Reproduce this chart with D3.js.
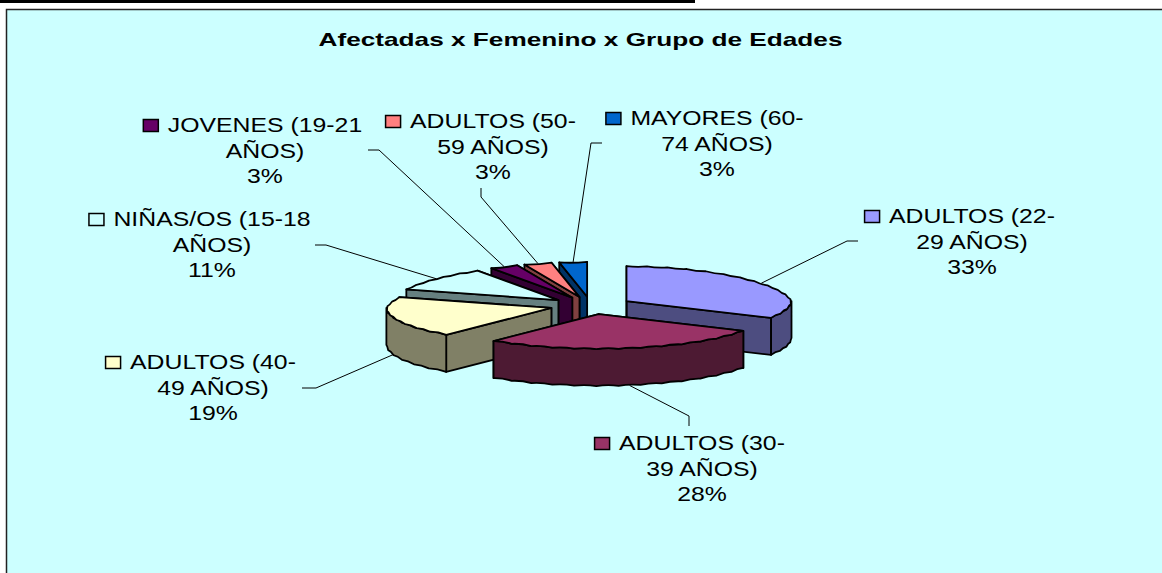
<!DOCTYPE html>
<html lang="es">
<head>
    <meta charset="UTF-8">
    <title>Afectadas x Femenino x Grupo de Edades</title>
    <script src="https://cdnjs.cloudflare.com/ajax/libs/d3/7.8.5/d3.min.js"></script>
    <style>
        body { margin: 0; overflow: hidden; background: #fff; }
        svg { display: block; }
        text { font-family: "Liberation Sans", Arial, sans-serif; fill: #000; }
    </style>
</head>
<body>
<svg id="chart" width="1162" height="573"></svg>
<script>
    // values, in slice order (clockwise from 12 o'clock)
    const values = [33, 28, 19, 11, 3, 3, 3];
    const labelLines = [
        ['ADULTOS (22-', '29 AÑOS)'],
        ['ADULTOS (30-', '39 AÑOS)'],
        ['ADULTOS (40-', '49 AÑOS)'],
        ['NIÑAS/OS (15-18', 'AÑOS)'],
        ['JOVENES (19-21', 'AÑOS)'],
        ['ADULTOS (50-', '59 AÑOS)'],
        ['MAYORES (60-', '74 AÑOS)']
    ];
    const topColors = ['#9999FF', '#993366', '#FFFFCC', '#CCFFFF', '#660066', '#FF8080', '#0066CC'];
    const sideColors = ['#4D4D80', '#4D1A33', '#808066', '#668080', '#330033', '#804040', '#003366'];

    // label placement: centre x, first baseline, then the leader's two outer points
    const labelX = [972, 702, 213, 212, 265, 493, 717];
    const labelY = [223, 450, 369, 226, 132, 128, 125];
    const leaderKnee = [[847, 241], [689, 416], [316, 388], [326, 245], [379, 150], [481, 197], [591, 143]];
    const leaderEnd = [[858, 241], [689, 426], [302, 388], [315, 245], [368, 150], [481, 188], [602, 143]];

    const W = 1162, H = 573;
    const cx = 591, cy = 305.5;
    const rx = 165, ry = 35, depth = 37;
    const explodeX = 0.25, explodeY = 0.25;
    const lineH = 25.7;
    const textStretch = 1.21;

    const svg = d3.select('#chart');

    svg.append('rect').attr('x', 0).attr('y', 0).attr('width', 695).attr('height', 3).attr('fill', '#000');
    svg.append('rect').attr('x', 6.5).attr('y', 9.5).attr('width', W).attr('height', H)
        .attr('fill', '#CCFFFF').attr('stroke', '#222').attr('stroke-width', 1.5);

    svg.append('text')
        .attr('x', 580.5).attr('y', 45.5)
        .attr('text-anchor', 'middle')
        .attr('font-size', 18.5).attr('font-weight', 'bold')
        .attr('textLength', 524).attr('lengthAdjust', 'spacingAndGlyphs')
        .text('Afectadas x Femenino x Grupo de Edades');

    const arcs = d3.pie().sort(null)(values);

    // point on the rim of a slice. The back of the pie is squeezed a bit, like excel's perspective
    function rimPoint(apex, angle, drop) {
        const dx = Math.sin(angle) * rx;
        const dy = -Math.cos(angle) * ry;
        const f = 1 + 0.1 * Math.min(0, dy) / ry;
        return [apex[0] + dx * f, apex[1] + dy + drop];
    }

    // rim is scalloped in the original, so curve each short segment in a little
    function addRim(path, apex, a0, a1, drop) {
        const n = Math.max(1, Math.round(Math.abs(a1 - a0) / (8 * Math.PI / 180)));
        for (let i = 1; i <= n; i++) {
            const p0 = rimPoint(apex, a0 + (a1 - a0) * (i - 1) / n, drop);
            const p1 = rimPoint(apex, a0 + (a1 - a0) * i / n, drop);
            const mx = (p0[0] + p1[0]) / 2, my = (p0[1] + p1[1]) / 2;
            const v = my - (apex[1] + drop) >= 0 ? -1.6 : 1.2;
            path.quadraticCurveTo(mx, my + v, p1[0], p1[1]);
        }
    }

    const slices = arcs.map((d, i) => {
        const mid = (d.startAngle + d.endAngle) / 2;
        return {
            i, d, mid,
            apex: [cx + Math.sin(mid) * rx * explodeX, cy - Math.cos(mid) * ry * explodeY]
        };
    });

    // back slices first, the big front one last
    const drawOrder = [6, 5, 4, 3, 0, 2, 1];
    const pieG = svg.append('g')
        .attr('stroke', '#000').attr('stroke-width', 1.8).attr('stroke-linejoin', 'round');

    function faceLine(apex, angle) {
        const c = rimPoint(apex, angle, 0);
        const c2 = rimPoint(apex, angle, depth);
        return d3.line()([apex, c, c2, [apex[0], apex[1] + depth]]) + 'Z';
    }

    drawOrder.forEach(k => {
        const s = slices[k];
        const g = pieG.append('g');
        const a0 = s.d.startAngle, a1 = s.d.endAngle;

        g.append('path').attr('d', faceLine(s.apex, a1)).attr('fill', sideColors[k]);
        g.append('path').attr('d', faceLine(s.apex, a0)).attr('fill', sideColors[k]);

        // front part of the wall only
        const w0 = Math.max(a0, Math.PI / 2), w1 = Math.min(a1, 3 * Math.PI / 2);
        if (w1 > w0) {
            const p = d3.path();
            const st = rimPoint(s.apex, w0, 0);
            p.moveTo(st[0], st[1]);
            addRim(p, s.apex, w0, w1, 0);
            const en = rimPoint(s.apex, w1, depth);
            p.lineTo(en[0], en[1]);
            addRim(p, s.apex, w1, w0, depth);
            p.closePath();
            g.append('path').attr('d', p.toString()).attr('fill', sideColors[k]);
        }

        const top = d3.path();
        top.moveTo(s.apex[0], s.apex[1]);
        const c0 = rimPoint(s.apex, a0, 0);
        top.lineTo(c0[0], c0[1]);
        addRim(top, s.apex, a0, a1, 0);
        top.closePath();
        g.append('path').attr('d', top.toString()).attr('fill', topColors[k]);
    });

    // leaders run from the slice's rim at its mid angle out to the label
    slices.forEach(s => {
        const front = Math.cos(s.mid) < -0.2 || (s.mid > Math.PI && s.mid < 3 * Math.PI / 2);
        const start = rimPoint(s.apex, s.mid, front ? depth : 0);
        svg.append('path')
            .attr('d', d3.line()([start, leaderKnee[s.i], leaderEnd[s.i]]))
            .attr('fill', 'none').attr('stroke', '#000').attr('stroke-width', 1);
    });

    // data labels: wrapped category + percent, legend key hangs left of the first line
    const total = d3.sum(values);
    const labels = svg.append('g').attr('font-size', 20.5);
    slices.forEach(s => {
        const lines = labelLines[s.i].concat([Math.round(s.d.value / total * 100) + '%']);
        let firstWidth = 0;
        lines.forEach((t, j) => {
            const node = labels.append('text')
                .attr('text-anchor', 'middle')
                .attr('transform', `translate(${labelX[s.i]},${labelY[s.i] + j * lineH}) scale(${textStretch},1)`)
                .text(t);
            if (j === 0) firstWidth = node.node().getComputedTextLength() * textStretch;
        });
        labels.append('rect')
            .attr('x', labelX[s.i] - firstWidth / 2 - 24.5)
            .attr('y', labelY[s.i] - 12.5)
            .attr('width', 15).attr('height', 12)
            .attr('fill', topColors[s.i])
            .attr('stroke', '#000').attr('stroke-width', 1.5);
    });
</script>
</body>
</html>
